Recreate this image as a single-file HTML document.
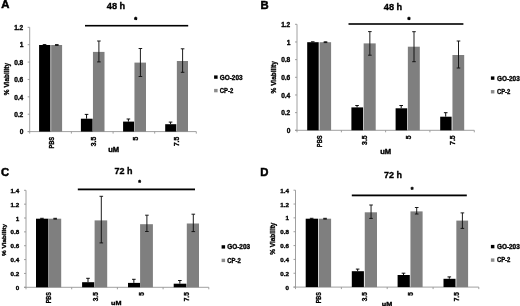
<!DOCTYPE html>
<html lang="en">
<head>
<meta charset="utf-8">
<title>Viability charts</title>
<style>
html,body{margin:0;padding:0;background:#fff;}
body{width:520px;height:306px;overflow:hidden;}
svg{display:block;font-family:'Liberation Sans', sans-serif;fill:#000;}
text{stroke:#000;stroke-width:0.34px;}
</style>
</head>
<body>
<svg width="520" height="306" viewBox="0 0 520 306">
<defs><filter id="soft" x="0" y="0" width="520" height="306" filterUnits="userSpaceOnUse"><feGaussianBlur stdDeviation="0.4"/></filter></defs>
<rect width="520" height="306" fill="#fff"/>
<g filter="url(#soft)">
<rect width="520" height="306" fill="#fff"/>
<g id="panel-A">
<text x="1.3" y="8.4" font-size="11.3" font-weight="700" style="stroke-width:0.5px">A</text>
<text x="116" y="9" font-size="9.2" font-weight="700" text-anchor="middle">48 h</text>
<rect x="85" y="24.9" width="103.2" height="1.6" fill="#000"/>
<text x="135.6" y="22.1" font-size="7.4" font-weight="700" text-anchor="middle" style="stroke-width:0.6px">*</text>
<g stroke="#959595" stroke-width="0.9" fill="none">
<line x1="29.7" y1="27.3" x2="29.7" y2="131.6"/>
<line x1="27.7" y1="131.6" x2="196.3" y2="131.6"/>
<line x1="27.7" y1="131.6" x2="29.7" y2="131.6"/>
<line x1="27.7" y1="114.22" x2="29.7" y2="114.22"/>
<line x1="27.7" y1="96.83" x2="29.7" y2="96.83"/>
<line x1="27.7" y1="79.45" x2="29.7" y2="79.45"/>
<line x1="27.7" y1="62.07" x2="29.7" y2="62.07"/>
<line x1="27.7" y1="44.68" x2="29.7" y2="44.68"/>
<line x1="27.7" y1="27.3" x2="29.7" y2="27.3"/>
<line x1="29.7" y1="131.6" x2="29.7" y2="133.6"/>
<line x1="71.4" y1="131.6" x2="71.4" y2="133.6"/>
<line x1="113.1" y1="131.6" x2="113.1" y2="133.6"/>
<line x1="154.7" y1="131.6" x2="154.7" y2="133.6"/>
<line x1="196.3" y1="131.6" x2="196.3" y2="133.6"/>
</g>
<text x="23.3" y="134.26" font-size="6.6" font-weight="700" text-anchor="end">0</text>
<text x="23.3" y="116.88" font-size="6.6" font-weight="700" text-anchor="end">0.2</text>
<text x="23.3" y="99.5" font-size="6.6" font-weight="700" text-anchor="end">0.4</text>
<text x="23.3" y="82.11" font-size="6.6" font-weight="700" text-anchor="end">0.6</text>
<text x="23.3" y="64.73" font-size="6.6" font-weight="700" text-anchor="end">0.8</text>
<text x="23.3" y="47.35" font-size="6.6" font-weight="700" text-anchor="end">1</text>
<text x="23.3" y="29.96" font-size="6.6" font-weight="700" text-anchor="end">1.2</text>
<text transform="translate(9 79.05) rotate(-90)" font-size="6.6" font-weight="700" text-anchor="middle" textLength="32.2" lengthAdjust="spacingAndGlyphs">% Viability</text>
<rect x="39.1" y="45" width="11.3" height="86.6" fill="#000"/>
<rect x="51.15" y="45" width="10.95" height="86.6" fill="#7f7f7f"/>
<path d="M44.55 44.6V45M42.75 44.6H46.35" stroke="#000" stroke-width="0.95" fill="none"/>
<path d="M56.8 44.6V45.4M55 44.6H58.6M55 45.4H58.6" stroke="#111" stroke-width="0.95" fill="none"/>
<rect x="80.9" y="118.7" width="11.7" height="12.9" fill="#000"/>
<rect x="92.95" y="51.9" width="11.55" height="79.7" fill="#7f7f7f"/>
<path d="M86.55 114.4V118.7M84.75 114.4H88.35" stroke="#000" stroke-width="0.95" fill="none"/>
<path d="M98.9 41V61.9M97.1 41H100.7M97.1 61.9H100.7" stroke="#111" stroke-width="0.95" fill="none"/>
<rect x="123.1" y="121.6" width="11" height="10" fill="#000"/>
<rect x="134.45" y="62.6" width="11.55" height="69" fill="#7f7f7f"/>
<path d="M128.4 119V121.6M126.6 119H130.2" stroke="#000" stroke-width="0.95" fill="none"/>
<path d="M140.4 48.5V76.5M138.6 48.5H142.2M138.6 76.5H142.2" stroke="#111" stroke-width="0.95" fill="none"/>
<rect x="165.2" y="124.2" width="11.1" height="7.4" fill="#000"/>
<rect x="176.85" y="61" width="11.15" height="70.6" fill="#7f7f7f"/>
<path d="M170.55 122.1V124.2M168.75 122.1H172.35" stroke="#000" stroke-width="0.95" fill="none"/>
<path d="M182.6 48.8V72.3M180.8 48.8H184.4M180.8 72.3H184.4" stroke="#111" stroke-width="0.95" fill="none"/>
<text transform="translate(54 136.8) rotate(-90)" font-size="6.85" font-weight="700" text-anchor="end" textLength="11.8" lengthAdjust="spacingAndGlyphs">PBS</text>
<text transform="translate(96.2 136.8) rotate(-90)" font-size="6.85" font-weight="700" text-anchor="end">3.5</text>
<text transform="translate(138 136.8) rotate(-90)" font-size="6.85" font-weight="700" text-anchor="end">5</text>
<text transform="translate(178.9 136.8) rotate(-90)" font-size="6.85" font-weight="700" text-anchor="end">7.5</text>
<text x="113.7" y="152.3" font-size="6.5" font-weight="700" text-anchor="middle" textLength="11" lengthAdjust="spacingAndGlyphs">uM</text>
<rect x="214.1" y="75.4" width="3.5" height="3.4" fill="#000"/>
<rect x="214.1" y="88.9" width="3.5" height="3.4" fill="#8c8c8c"/>
<text x="219.7" y="79.5" font-size="6.699999999999999" font-weight="700" textLength="22.9" lengthAdjust="spacingAndGlyphs">GO-203</text>
<text x="219.7" y="93" font-size="6.699999999999999" font-weight="700" textLength="13.5" lengthAdjust="spacingAndGlyphs">CP-2</text>
</g>
<g id="panel-B">
<text x="260.6" y="8.5" font-size="11.3" font-weight="700" style="stroke-width:0.5px">B</text>
<text x="393" y="9.5" font-size="9.2" font-weight="700" text-anchor="middle">48 h</text>
<rect x="348.5" y="23.2" width="114.9" height="1.6" fill="#000"/>
<text x="409" y="21.6" font-size="7.4" font-weight="700" text-anchor="middle" style="stroke-width:0.6px">*</text>
<g stroke="#959595" stroke-width="0.9" fill="none">
<line x1="297" y1="24.3" x2="297" y2="130.3"/>
<line x1="295" y1="130.3" x2="474.3" y2="130.3"/>
<line x1="295" y1="130.3" x2="297" y2="130.3"/>
<line x1="295" y1="112.63" x2="297" y2="112.63"/>
<line x1="295" y1="94.97" x2="297" y2="94.97"/>
<line x1="295" y1="77.3" x2="297" y2="77.3"/>
<line x1="295" y1="59.63" x2="297" y2="59.63"/>
<line x1="295" y1="41.97" x2="297" y2="41.97"/>
<line x1="295" y1="24.3" x2="297" y2="24.3"/>
<line x1="297" y1="130.3" x2="297" y2="132.3"/>
<line x1="341.4" y1="130.3" x2="341.4" y2="132.3"/>
<line x1="385.6" y1="130.3" x2="385.6" y2="132.3"/>
<line x1="429.9" y1="130.3" x2="429.9" y2="132.3"/>
<line x1="474.3" y1="130.3" x2="474.3" y2="132.3"/>
</g>
<text x="290.3" y="132.96" font-size="6.6" font-weight="700" text-anchor="end">0</text>
<text x="290.3" y="115.3" font-size="6.6" font-weight="700" text-anchor="end">0.2</text>
<text x="290.3" y="97.63" font-size="6.6" font-weight="700" text-anchor="end">0.4</text>
<text x="290.3" y="79.96" font-size="6.6" font-weight="700" text-anchor="end">0.6</text>
<text x="290.3" y="62.3" font-size="6.6" font-weight="700" text-anchor="end">0.8</text>
<text x="290.3" y="44.63" font-size="6.6" font-weight="700" text-anchor="end">1</text>
<text x="290.3" y="26.96" font-size="6.6" font-weight="700" text-anchor="end">1.2</text>
<text transform="translate(276.4 77.3) rotate(-90)" font-size="6.6" font-weight="700" text-anchor="middle" textLength="32.2" lengthAdjust="spacingAndGlyphs">% Viability</text>
<rect x="307.2" y="42.2" width="11.5" height="88.1" fill="#000"/>
<rect x="319.55" y="42.2" width="11.55" height="88.1" fill="#7f7f7f"/>
<path d="M312.75 41.8V42.2M310.95 41.8H314.55" stroke="#000" stroke-width="0.95" fill="none"/>
<path d="M325.5 41.8V42.6M323.7 41.8H327.3M323.7 42.6H327.3" stroke="#111" stroke-width="0.95" fill="none"/>
<rect x="351.4" y="107.4" width="11.7" height="22.9" fill="#000"/>
<rect x="363.65" y="43.4" width="12.05" height="86.9" fill="#7f7f7f"/>
<path d="M357.05 105.5V107.4M355.25 105.5H358.85" stroke="#000" stroke-width="0.95" fill="none"/>
<path d="M369.85 31.6V55.2M368.05 31.6H371.65M368.05 55.2H371.65" stroke="#111" stroke-width="0.95" fill="none"/>
<rect x="395.6" y="108.3" width="11.6" height="22" fill="#000"/>
<rect x="407.85" y="46.7" width="11.95" height="83.6" fill="#7f7f7f"/>
<path d="M401.2 105.5V108.3M399.4 105.5H403" stroke="#000" stroke-width="0.95" fill="none"/>
<path d="M414 31.7V61.7M412.2 31.7H415.8M412.2 61.7H415.8" stroke="#111" stroke-width="0.95" fill="none"/>
<rect x="440.2" y="116.7" width="11.4" height="13.6" fill="#000"/>
<rect x="452.45" y="55" width="11.75" height="75.3" fill="#7f7f7f"/>
<path d="M445.7 112.7V116.7M443.9 112.7H447.5" stroke="#000" stroke-width="0.95" fill="none"/>
<path d="M458.5 41V68M456.7 41H460.3M456.7 68H460.3" stroke="#111" stroke-width="0.95" fill="none"/>
<text transform="translate(321.6 135.4) rotate(-90)" font-size="6.85" font-weight="700" text-anchor="end" textLength="11.8" lengthAdjust="spacingAndGlyphs">PBS</text>
<text transform="translate(367 135.4) rotate(-90)" font-size="6.85" font-weight="700" text-anchor="end">3.5</text>
<text transform="translate(411.2 135.4) rotate(-90)" font-size="6.85" font-weight="700" text-anchor="end">5</text>
<text transform="translate(454.7 135.4) rotate(-90)" font-size="6.85" font-weight="700" text-anchor="end">7.5</text>
<text x="385.7" y="153.5" font-size="6.5" font-weight="700" text-anchor="middle" textLength="11" lengthAdjust="spacingAndGlyphs">uM</text>
<rect x="490.9" y="76.4" width="3.5" height="3.4" fill="#000"/>
<rect x="490.9" y="90.05" width="3.5" height="3.4" fill="#8c8c8c"/>
<text x="496.9" y="80.5" font-size="6.699999999999999" font-weight="700" textLength="22.9" lengthAdjust="spacingAndGlyphs">GO-203</text>
<text x="496.9" y="94.15" font-size="6.699999999999999" font-weight="700" textLength="13.5" lengthAdjust="spacingAndGlyphs">CP-2</text>
</g>
<g id="panel-C">
<text x="0.9" y="175.8" font-size="11.3" font-weight="700" style="stroke-width:0.5px">C</text>
<text x="123.5" y="174.2" font-size="9.0" font-weight="700" text-anchor="middle">72 h</text>
<rect x="77.8" y="188.5" width="117.2" height="1.8" fill="#000"/>
<text x="139.5" y="184.9" font-size="7.0" font-weight="700" text-anchor="middle" style="stroke-width:0.45px">*</text>
<g stroke="#959595" stroke-width="0.9" fill="none">
<line x1="26" y1="190.3" x2="26" y2="287.3"/>
<line x1="24" y1="287.3" x2="208.8" y2="287.3"/>
<line x1="24" y1="287.3" x2="26" y2="287.3"/>
<line x1="24" y1="273.44" x2="26" y2="273.44"/>
<line x1="24" y1="259.59" x2="26" y2="259.59"/>
<line x1="24" y1="245.73" x2="26" y2="245.73"/>
<line x1="24" y1="231.87" x2="26" y2="231.87"/>
<line x1="24" y1="218.01" x2="26" y2="218.01"/>
<line x1="24" y1="204.16" x2="26" y2="204.16"/>
<line x1="24" y1="190.3" x2="26" y2="190.3"/>
<line x1="26" y1="287.3" x2="26" y2="289.3"/>
<line x1="71.7" y1="287.3" x2="71.7" y2="289.3"/>
<line x1="117.4" y1="287.3" x2="117.4" y2="289.3"/>
<line x1="163.1" y1="287.3" x2="163.1" y2="289.3"/>
<line x1="208.8" y1="287.3" x2="208.8" y2="289.3"/>
</g>
<text x="19.2" y="289.84" font-size="6.25" font-weight="700" text-anchor="end">0</text>
<text x="19.2" y="275.98" font-size="6.25" font-weight="700" text-anchor="end">0.2</text>
<text x="19.2" y="262.12" font-size="6.25" font-weight="700" text-anchor="end">0.4</text>
<text x="19.2" y="248.27" font-size="6.25" font-weight="700" text-anchor="end">0.6</text>
<text x="19.2" y="234.41" font-size="6.25" font-weight="700" text-anchor="end">0.8</text>
<text x="19.2" y="220.55" font-size="6.25" font-weight="700" text-anchor="end">1</text>
<text x="19.2" y="206.69" font-size="6.25" font-weight="700" text-anchor="end">1.2</text>
<text x="19.2" y="192.84" font-size="6.25" font-weight="700" text-anchor="end">1.4</text>
<text transform="translate(5.6 240) rotate(-90)" font-size="6.25" font-weight="700" text-anchor="middle" textLength="32.2" lengthAdjust="spacingAndGlyphs">% Viability</text>
<rect x="36" y="218.7" width="12.3" height="68.6" fill="#000"/>
<rect x="48.4" y="218.7" width="12.8" height="68.6" fill="#7f7f7f"/>
<path d="M41.95 218.3V218.7M40.15 218.3H43.75" stroke="#000" stroke-width="0.95" fill="none"/>
<path d="M55.2 218.3V219.1M53.4 218.3H57M53.4 219.1H57" stroke="#111" stroke-width="0.95" fill="none"/>
<rect x="82.1" y="282.2" width="12.2" height="5.1" fill="#000"/>
<rect x="94.6" y="220.4" width="12.6" height="66.9" fill="#7f7f7f"/>
<path d="M88 278.3V282.2M86.2 278.3H89.8" stroke="#000" stroke-width="0.95" fill="none"/>
<path d="M101.3 196.3V242.9M99.5 196.3H103.1M99.5 242.9H103.1" stroke="#111" stroke-width="0.95" fill="none"/>
<rect x="128" y="282.9" width="12.1" height="4.4" fill="#000"/>
<rect x="140.1" y="224.2" width="12.8" height="63.1" fill="#7f7f7f"/>
<path d="M133.85 279.3V282.9M132.05 279.3H135.65" stroke="#000" stroke-width="0.95" fill="none"/>
<path d="M146.9 215.2V231.5M145.1 215.2H148.7M145.1 231.5H148.7" stroke="#111" stroke-width="0.95" fill="none"/>
<rect x="173.7" y="283.7" width="12.7" height="3.6" fill="#000"/>
<rect x="186.8" y="223.5" width="12.2" height="63.8" fill="#7f7f7f"/>
<path d="M179.85 280.5V283.7M178.05 280.5H181.65" stroke="#000" stroke-width="0.95" fill="none"/>
<path d="M193.3 214.2V231.6M191.5 214.2H195.1M191.5 231.6H195.1" stroke="#111" stroke-width="0.95" fill="none"/>
<text transform="translate(51.2 292.2) rotate(-90)" font-size="6.5" font-weight="700" text-anchor="end" textLength="11.17" lengthAdjust="spacingAndGlyphs">PBS</text>
<text transform="translate(97.5 292.2) rotate(-90)" font-size="6.5" font-weight="700" text-anchor="end">3.5</text>
<text transform="translate(144.4 292.2) rotate(-90)" font-size="6.5" font-weight="700" text-anchor="end">5</text>
<text transform="translate(189 292.2) rotate(-90)" font-size="6.5" font-weight="700" text-anchor="end">7.5</text>
<text x="116.2" y="304.9" font-size="6.15" font-weight="700" text-anchor="middle" textLength="10.42" lengthAdjust="spacingAndGlyphs">uM</text>
<rect x="221.6" y="245.2" width="3.5" height="3.4" fill="#000"/>
<rect x="221.6" y="258.7" width="3.5" height="3.4" fill="#8c8c8c"/>
<text x="227.2" y="249.17" font-size="6.35" font-weight="700" textLength="22.9" lengthAdjust="spacingAndGlyphs">GO-203</text>
<text x="227.2" y="262.67" font-size="6.35" font-weight="700" textLength="13.5" lengthAdjust="spacingAndGlyphs">CP-2</text>
</g>
<g id="panel-D">
<text x="260.2" y="175.8" font-size="11.3" font-weight="700" style="stroke-width:0.5px">D</text>
<text x="393" y="178.4" font-size="9.0" font-weight="700" text-anchor="middle">72 h</text>
<rect x="351.8" y="194.5" width="115" height="1.8" fill="#000"/>
<text x="412" y="192.2" font-size="7.0" font-weight="700" text-anchor="middle" style="stroke-width:0.45px">*</text>
<g stroke="#959595" stroke-width="0.9" fill="none">
<line x1="295.5" y1="190.2" x2="295.5" y2="287.1"/>
<line x1="293.5" y1="287.1" x2="478.8" y2="287.1"/>
<line x1="293.5" y1="287.1" x2="295.5" y2="287.1"/>
<line x1="293.5" y1="273.26" x2="295.5" y2="273.26"/>
<line x1="293.5" y1="259.41" x2="295.5" y2="259.41"/>
<line x1="293.5" y1="245.57" x2="295.5" y2="245.57"/>
<line x1="293.5" y1="231.73" x2="295.5" y2="231.73"/>
<line x1="293.5" y1="217.89" x2="295.5" y2="217.89"/>
<line x1="293.5" y1="204.04" x2="295.5" y2="204.04"/>
<line x1="293.5" y1="190.2" x2="295.5" y2="190.2"/>
<line x1="295.5" y1="287.1" x2="295.5" y2="289.1"/>
<line x1="341.4" y1="287.1" x2="341.4" y2="289.1"/>
<line x1="387.2" y1="287.1" x2="387.2" y2="289.1"/>
<line x1="433.1" y1="287.1" x2="433.1" y2="289.1"/>
<line x1="478.8" y1="287.1" x2="478.8" y2="289.1"/>
</g>
<text x="288.9" y="289.64" font-size="6.25" font-weight="700" text-anchor="end">0</text>
<text x="288.9" y="275.79" font-size="6.25" font-weight="700" text-anchor="end">0.2</text>
<text x="288.9" y="261.95" font-size="6.25" font-weight="700" text-anchor="end">0.4</text>
<text x="288.9" y="248.11" font-size="6.25" font-weight="700" text-anchor="end">0.6</text>
<text x="288.9" y="234.27" font-size="6.25" font-weight="700" text-anchor="end">0.8</text>
<text x="288.9" y="220.42" font-size="6.25" font-weight="700" text-anchor="end">1</text>
<text x="288.9" y="206.58" font-size="6.25" font-weight="700" text-anchor="end">1.2</text>
<text x="288.9" y="192.74" font-size="6.25" font-weight="700" text-anchor="end">1.4</text>
<text transform="translate(275.2 238.65) rotate(-90)" font-size="7.3" font-weight="700" text-anchor="middle" textLength="32.2" lengthAdjust="spacingAndGlyphs">% Viability</text>
<rect x="305.7" y="218.7" width="12.3" height="68.4" fill="#000"/>
<rect x="318.65" y="218.7" width="12.45" height="68.4" fill="#7f7f7f"/>
<path d="M311.65 218.3V218.7M309.85 218.3H313.45" stroke="#000" stroke-width="0.95" fill="none"/>
<path d="M325.05 218.3V219.1M323.25 218.3H326.85M323.25 219.1H326.85" stroke="#111" stroke-width="0.95" fill="none"/>
<rect x="351.8" y="271.2" width="12.1" height="15.9" fill="#000"/>
<rect x="364.75" y="212.3" width="12.25" height="74.8" fill="#7f7f7f"/>
<path d="M357.65 269.1V271.2M355.85 269.1H359.45" stroke="#000" stroke-width="0.95" fill="none"/>
<path d="M371.05 205V218.4M369.25 205H372.85M369.25 218.4H372.85" stroke="#111" stroke-width="0.95" fill="none"/>
<rect x="397.6" y="275" width="12.2" height="12.1" fill="#000"/>
<rect x="410.45" y="211.4" width="12.15" height="75.7" fill="#7f7f7f"/>
<path d="M403.5 273.2V275M401.7 273.2H405.3" stroke="#000" stroke-width="0.95" fill="none"/>
<path d="M416.7 207.5V214M414.9 207.5H418.5M414.9 214H418.5" stroke="#111" stroke-width="0.95" fill="none"/>
<rect x="443.5" y="278.8" width="12" height="8.3" fill="#000"/>
<rect x="456.35" y="220.6" width="11.75" height="66.5" fill="#7f7f7f"/>
<path d="M449.3 276.9V278.8M447.5 276.9H451.1" stroke="#000" stroke-width="0.95" fill="none"/>
<path d="M462.4 212.9V228.4M460.6 212.9H464.2M460.6 228.4H464.2" stroke="#111" stroke-width="0.95" fill="none"/>
<text transform="translate(320.6 292.2) rotate(-90)" font-size="6.5" font-weight="700" text-anchor="end" textLength="11.17" lengthAdjust="spacingAndGlyphs">PBS</text>
<text transform="translate(367.3 292.2) rotate(-90)" font-size="6.5" font-weight="700" text-anchor="end">3.5</text>
<text transform="translate(413.4 292.2) rotate(-90)" font-size="6.5" font-weight="700" text-anchor="end">5</text>
<text transform="translate(458.9 292.2) rotate(-90)" font-size="6.5" font-weight="700" text-anchor="end">7.5</text>
<text x="387.1" y="305.6" font-size="6.15" font-weight="700" text-anchor="middle" textLength="10.42" lengthAdjust="spacingAndGlyphs">uM</text>
<rect x="490.9" y="244.9" width="3.5" height="3.4" fill="#000"/>
<rect x="490.9" y="258.4" width="3.5" height="3.4" fill="#8c8c8c"/>
<text x="496.9" y="248.87" font-size="6.35" font-weight="700" textLength="22.9" lengthAdjust="spacingAndGlyphs">GO-203</text>
<text x="496.9" y="262.37" font-size="6.35" font-weight="700" textLength="13.5" lengthAdjust="spacingAndGlyphs">CP-2</text>
</g>
</g>
</svg>
</body>
</html>
